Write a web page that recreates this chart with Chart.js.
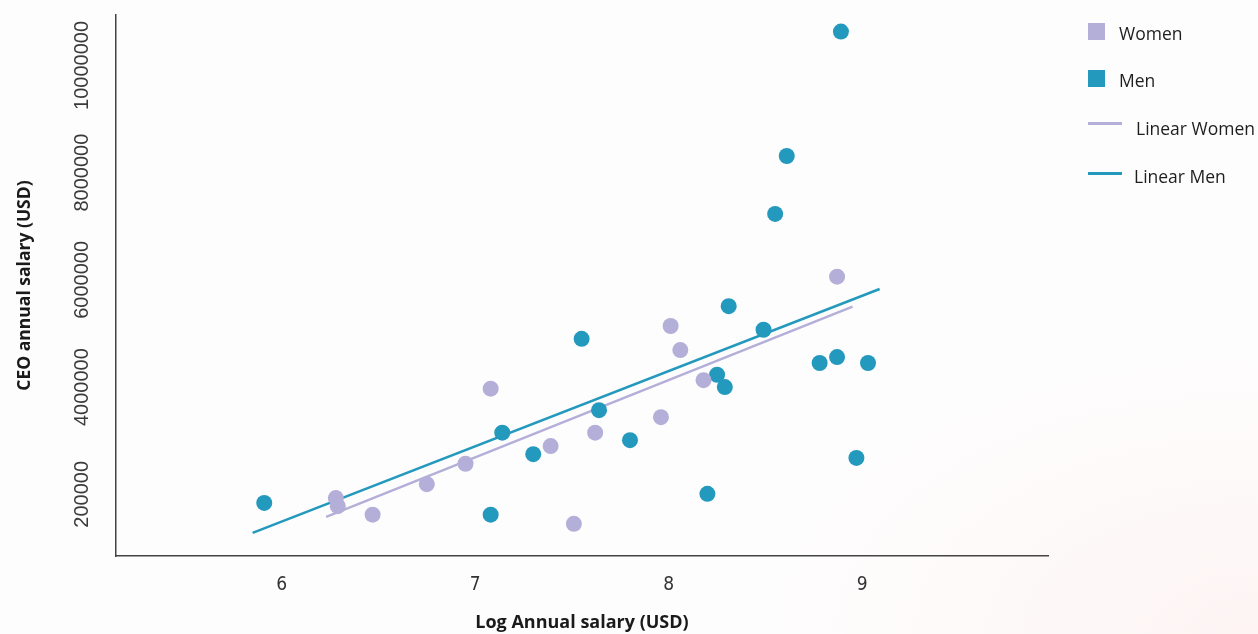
<!DOCTYPE html>
<html>
<head>
<meta charset="utf-8">
<script src="https://cdn.jsdelivr.net/npm/chart.js@4.4.0/dist/chart.umd.min.js"></script>
<style>
  html, body { margin:0; padding:0; }
  body { width:1258px; height:634px; overflow:hidden;
    background: radial-gradient(ellipse 700px 400px at 1258px 634px, rgba(252,236,234,0.5), rgba(255,255,255,0) 70%), #fefdfd; }
  #wrap { position:absolute; left:0; top:0; width:1258px; height:634px; }
  .leg { position:absolute; font-family:"Open Sans", sans-serif; font-size:17.5px; color:#1e1e1e; line-height:20px; }
  .sq { position:absolute; width:17px; height:17px; }
  .ln { position:absolute; width:34px; height:3px; }
</style>
</head>
<body>
<div id="wrap"><canvas id="c" width="1258" height="634"></canvas></div>
<div class="sq" style="left:1088px;top:23px;background:#B3AFD9"></div>
<div class="leg" style="left:1119px;top:23px">Women</div>
<div class="sq" style="left:1088px;top:70px;background:#2399BD"></div>
<div class="leg" style="left:1119px;top:70px">Men</div>
<div class="ln" style="left:1088px;top:122px;background:#B3AFD9"></div>
<div class="leg" style="left:1136px;top:118px">Linear Women</div>
<div class="ln" style="left:1088px;top:172px;background:#2399BD"></div>
<div class="leg" style="left:1134px;top:166px">Linear Men</div>
<script>
// ---- data (log annual salary, CEO annual salary USD) ----
const menX = [5.91, 7.08, 7.14, 7.30, 7.55, 7.64, 7.80, 8.20, 8.25, 8.29, 8.31, 8.49, 8.55, 8.61, 8.78, 8.87, 8.89, 8.97, 9.03];
const menY = [1840000, 1620000, 3150000, 2750000, 4900000, 3570000, 3010000, 2010000, 4230000, 4000000, 5510000, 5070000, 7230000, 8310000, 4450000, 4560000, 10630000, 2680000, 4450000];
const womenX = [6.28, 6.29, 6.47, 6.75, 6.95, 7.08, 7.39, 7.51, 7.62, 7.96, 8.01, 8.06, 8.18, 8.87];
const womenY = [1930000, 1780000, 1620000, 2190000, 2570000, 3970000, 2900000, 1450000, 3150000, 3440000, 5140000, 4690000, 4130000, 6060000];
const menTrendX = [5.85, 9.09];
const menTrendY = [1280000, 5830000];
const womenTrendX = [6.23, 8.95];
const womenTrendY = [1580000, 5500000];
const xTickValues = [6, 7, 8, 9];
const yTickValues = [2000000, 4000000, 6000000, 8000000, 10000000];
const yTickLabels = ['200000', '4000000', '6000000', '8000000', '10000000'];

const toPts = (xs, ys) => xs.map((x, i) => ({x: x, y: ys[i]}));

const MEN = '#2399BD', WOMEN = '#B3AFD9';

const yLabelPlugin = {
  id: 'yLabels',
  afterDraw(chart) {
    const ctx = chart.ctx, ys = chart.scales.y;
    ctx.save();
    ctx.fillStyle = '#3a3a3a';
    ctx.font = '20px "Liberation Sans", Arial, sans-serif';
    ctx.textAlign = 'center';
    ctx.textBaseline = 'alphabetic';
    yTickValues.forEach((v, i) => {
      const py = ys.getPixelForValue(v);
      ctx.save();
      ctx.translate(88, py);
      ctx.rotate(-Math.PI / 2);
      ctx.fillText(yTickLabels[i], 0, 0);
      ctx.restore();
    });
    ctx.restore();
  }
};

new Chart(document.getElementById('c'), {
  type: 'scatter',
  data: {
    datasets: [
      { label: 'Women', data: toPts(womenX, womenY), backgroundColor: WOMEN, borderWidth: 0, pointRadius: 8, pointHoverRadius: 8, order: 0 },
      { label: 'Men', data: toPts(menX, menY), backgroundColor: MEN, borderWidth: 0, pointRadius: 8, pointHoverRadius: 8, order: 0 },
      { label: 'Linear Women', type: 'line', data: toPts(womenTrendX, womenTrendY), borderColor: WOMEN, borderWidth: 2.5, pointRadius: 0, fill: false, order: 1 },
      { label: 'Linear Men', type: 'line', data: toPts(menTrendX, menTrendY), borderColor: MEN, borderWidth: 2.5, pointRadius: 0, fill: false, order: 1 }
    ]
  },
  options: {
    responsive: false,
    animation: false,
    events: [],
    layout: { padding: { left: 0, right: 210, top: 15, bottom: 0 } },
    plugins: { legend: { display: false }, tooltip: { enabled: false } },
    scales: {
      x: {
        type: 'linear', min: 5.144, max: 9.96,
        afterBuildTicks: s => { s.ticks = xTickValues.map(v => ({value: v})); },
        afterFit: s => { s.height = 78; },
        grid: { display: false, drawTicks: false },
        border: { display: true, color: '#444', width: 1.5 },
        ticks: { padding: 18, color: '#333', font: { family: '"Liberation Sans Narrow", "DejaVu Sans Condensed", "Open Sans", sans-serif', size: 19 }, callback: v => String(v) },
        title: { display: true, text: 'Log Annual salary (USD)', color: '#1a1a1a', padding: { top: 0, bottom: 0 },
                 font: { family: '"Open Sans", sans-serif', size: 18, weight: 'bold' } }
      },
      y: {
        type: 'linear', min: 850000, max: 10940000,
        afterBuildTicks: s => { s.ticks = yTickValues.map(v => ({value: v})); },
        afterFit: s => { s.width = 116; },
        grid: { display: false, drawTicks: false },
        border: { display: true, color: '#444', width: 1.5 },
        ticks: { display: false },
        title: { display: true, text: 'CEO annual salary (USD)', color: '#1a1a1a', padding: { top: 15, bottom: 0 },
                 font: { family: '"Open Sans", sans-serif', size: 17.5, weight: 'bold' } }
      }
    }
  },
  plugins: [yLabelPlugin]
});
</script>
</body>
</html>
